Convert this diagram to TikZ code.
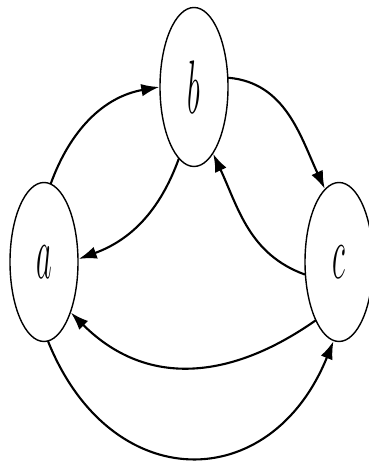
\documentclass[tikz,border=0pt]{standalone}
\usepackage{tikz}
\usetikzlibrary{arrows.meta,shapes.geometric}

% letters are printed tall and narrow, like the ellipses
\newcommand{\tallletter}[1]{\scalebox{1}[2.5]{$#1$}}

\begin{document}
\begin{tikzpicture}[
    font=\LARGE,
    line cap=round,
    line join=round,
    >={Latex[length=3.6mm,width=2.5mm]},   % arrow tip style
    state/.style={draw, ellipse, line width=0.8pt, minimum width=1.36cm, minimum height=3.18cm, inner sep=0pt},
    link/.style={->, line width=1.2pt}
]

\useasboundingbox (0,0) rectangle (7.36,9.28);

%-----------------------
% 1) STATES
%-----------------------
\node[state] (a) at (0.88,4.04) {\tallletter{a}};
\node[state] (b) at (3.88,7.54) {\tallletter{b}};
\node[state] (c) at (6.78,4.04) {\tallletter{c}};

%-----------------------
% 2) UPPER LINKS
%-----------------------
\draw[link] (a.85)   to[out=70,in=190]  (b.180);
\draw[link] (b.-102) to[out=-110,in=20] (a.5);
\draw[link] (b.15)   to[out=-5,in=115]  (c.101);
\draw[link] (c.200)  to[out=160,in=-65] (b.-74);

%-----------------------
% 3) LOWER LINKS
%-----------------------
\draw[link] (c.-112) to[out=-145,in=-45,looseness=1.1] (a.-62);
\draw[link] (a.-87)  to[out=-68,in=-112,looseness=1.5] (c.-94);

\end{tikzpicture}
\end{document}
